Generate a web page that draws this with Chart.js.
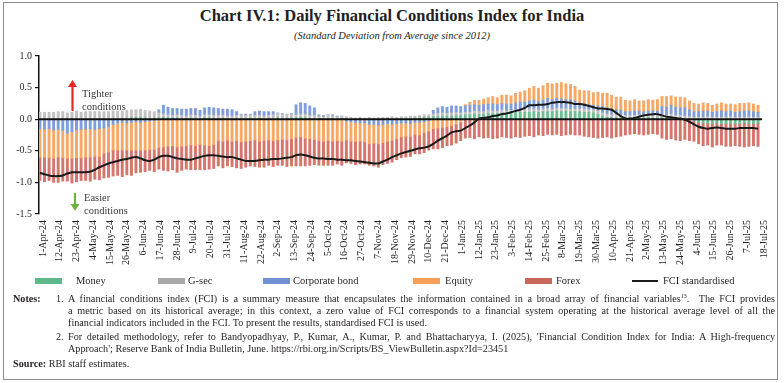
<!DOCTYPE html>
<html><head><meta charset="utf-8">
<script src="https://cdn.jsdelivr.net/npm/chart.js@4.4.1/dist/chart.umd.min.js"></script>
<style>
html,body{margin:0;padding:0;background:#fff;}
body{width:784px;height:383px;position:relative;overflow:hidden;font-family:"Liberation Serif","DejaVu Serif",serif;color:#231f20;}
#frame{position:absolute;left:3px;top:2px;width:773px;height:376px;border:1.5px solid #8c8c8c;}
#title{position:absolute;left:0;width:784px;top:6px;text-align:center;font-weight:bold;font-size:16.5px;}
#subtitle{position:absolute;left:0;width:784px;top:30px;text-align:center;font-style:italic;font-size:10.5px;}
#wrap{position:absolute;left:0;top:46px;width:784px;height:226px;}
.ann{position:absolute;font-size:10.5px;color:#3a3a3a;line-height:13px;}
.lg{position:absolute;top:274px;font-size:10.5px;line-height:13px;color:#231f20;}
.sw{position:absolute;top:278px;height:6px;width:27px;}
.nl{position:absolute;font-size:10.2px;line-height:12px;white-space:nowrap;}
.jt{position:absolute;left:68px;width:707px;font-size:10.2px;line-height:12px;height:12px;overflow:hidden;text-align:justify;text-align-last:justify;}
.pl{position:absolute;left:68px;font-size:10.2px;line-height:12px;white-space:nowrap;}
sup{font-size:6px;vertical-align:4px;line-height:0;}
</style>
</head><body>
<div id="frame"></div>
<div id="title">Chart IV.1: Daily Financial Conditions Index for India</div>
<div id="subtitle">(Standard Deviation from Average since 2012)</div>
<div id="wrap"><canvas id="c"></canvas></div>
<svg width="784" height="383" style="position:absolute;left:0;top:0;pointer-events:none">
  <line x1="72.5" y1="111" x2="72.5" y2="86" stroke="#e8262a" stroke-width="2.2"/>
  <polygon points="68,87 77,87 72.5,80" fill="#e8262a"/>
  <line x1="75" y1="193" x2="75" y2="205" stroke="#6db33f" stroke-width="2.2"/>
  <polygon points="70.5,204 79.5,204 75,211" fill="#6db33f"/>
</svg>
<div class="ann" style="left:82px;top:87px;">Tighter<br>conditions</div>
<div class="ann" style="left:84px;top:191px;">Easier<br>conditions</div>

<div class="sw" style="left:35px;background:#5fb88a"></div><div class="lg" style="left:76px">Money</div>
<div class="sw" style="left:158px;background:#a8a8a8"></div><div class="lg" style="left:188px">G-sec</div>
<div class="sw" style="left:263px;background:#6f90d2"></div><div class="lg" style="left:293px">Corporate bond</div>
<div class="sw" style="left:413px;background:#f59e55"></div><div class="lg" style="left:445px">Equity</div>
<div class="sw" style="left:525px;background:#c8675c"></div><div class="lg" style="left:556px">Forex</div>
<div class="sw" style="left:632px;top:280px;height:2px;width:26px;background:#1a1a1a"></div><div class="lg" style="left:663px">FCI standardised</div>

<div class="nl" style="left:13px;top:293px;font-weight:bold">Notes:</div>
<div class="nl" style="left:56px;top:293px">1.</div>
<div class="jt" style="top:293px">A financial conditions index (FCI) is a summary measure that encapsulates the information contained in a broad array of financial variables<sup>13</sup>.&nbsp; The FCI provides</div>
<div class="jt" style="top:305px">a metric based on its historical average; in this context, a zero value of FCI corresponds to a financial system operating at the historical average level of all the</div>
<div class="pl" style="top:317px">financial indicators included in the FCI. To present the results, standardised FCI is used.</div>
<div class="nl" style="left:56px;top:331px">2.</div>
<div class="jt" style="top:331px">For detailed methodology, refer to Bandyopadhyay, P., Kumar, A., Kumar, P. and Bhattacharyya, I. (2025), 'Financial Condition Index for India: A High-frequency</div>
<div class="pl" style="top:343px">Approach'; Reserve Bank of India Bulletin, June. https://rbi.org.in/Scripts/BS_ViewBulletin.aspx?Id=23451</div>
<div class="nl" style="left:13px;top:358px"><b>Source:</b> RBI staff estimates.</div>

<script>
// One observation every DAY_STEP days, starting 1-Apr-2024
const DAY_STEP = 3;
const TICK_STEP = 11;

const tickLabels = ['1-Apr-24','12-Apr-24','23-Apr-24','4-May-24','15-May-24','26-May-24','6-Jun-24','17-Jun-24','28-Jun-24','9-Jul-24','20-Jul-24','31-Jul-24','11-Aug-24','22-Aug-24','2-Sep-24','13-Sep-24','24-Sep-24','5-Oct-24','16-Oct-24','27-Oct-24','7-Nov-24','18-Nov-24','29-Nov-24','10-Dec-24','21-Dec-24','1-Jan-25','12-Jan-25','23-Jan-25','3-Feb-25','14-Feb-25','25-Feb-25','8-Mar-25','19-Mar-25','30-Mar-25','10-Apr-25','21-Apr-25','2-May-25','13-May-25','24-May-25','4-Jun-25','15-Jun-25','26-Jun-25','7-Jul-25','18-Jul-25'];

const money = [
0.01,0.00,0.01,0.00,0.00,0.01,0.00,0.00,0.01,0.00,
0.00,0.01,0.00,0.00,0.01,0.00,0.01,0.00,0.01,0.01,
0.02,0.03,0.03,0.02,0.01,0.01,0.02,0.03,0.02,0.02,
0.02,0.01,0.01,0.02,0.01,0.01,0.02,0.02,0.01,0.01,
0.01,0.01,0.00,0.01,0.01,0.00,0.01,0.01,0.01,0.00,
0.01,0.01,0.02,0.01,0.01,0.02,0.02,0.03,0.02,0.01,
0.01,0.01,0.00,0.01,0.01,0.00,0.01,0.01,0.00,0.00,
0.00,0.00,0.00,0.00,0.00,0.00,0.01,0.01,0.00,0.01,
0.01,0.01,0.02,0.02,0.03,0.03,0.04,0.04,0.05,0.05,
0.05,0.06,0.06,0.07,0.07,0.08,0.08,0.08,0.09,0.09,
0.09,0.10,0.09,0.10,0.10,0.11,0.11,0.11,0.12,0.11,
0.12,0.12,0.12,0.13,0.12,0.13,0.12,0.12,0.12,0.11,
0.11,0.10,0.08,0.05,0.03,0.03,0.02,0.02,0.02,0.02,
0.02,0.02,0.02,0.03,0.02,0.02,0.02,0.01,0.02,0.01,
0.01,0.00,-0.01,-0.03,-0.05,-0.06,-0.06,-0.07,-0.06,-0.07,
-0.07,-0.06,-0.07,-0.07,-0.06,-0.07,-0.07,-0.06];

const gsec = [
0.10,0.11,0.10,0.11,0.12,0.11,0.10,0.11,0.12,0.11,
0.12,0.11,0.12,0.12,0.11,0.12,0.12,0.13,0.12,0.13,
0.13,0.12,0.13,0.12,0.12,0.11,0.08,0.05,0.05,0.04,
0.05,0.05,0.04,0.05,0.05,0.04,0.05,0.05,0.05,0.05,
0.05,0.04,0.05,0.05,0.06,0.06,0.06,0.05,0.05,0.05,
0.05,0.06,0.07,0.07,0.07,0.06,0.05,0.05,0.06,0.05,
0.05,0.04,0.04,0.05,0.04,0.04,0.04,0.03,0.03,0.02,
0.03,0.02,0.03,0.02,0.03,0.03,0.02,0.03,0.03,0.03,
0.03,0.04,0.03,0.04,0.04,0.04,0.04,0.05,0.05,0.04,
0.05,0.05,0.04,0.04,0.04,0.05,0.04,0.04,0.05,0.04,
0.04,0.05,0.04,0.04,0.05,0.04,0.04,0.05,0.04,0.04,
0.04,0.05,0.04,0.04,0.05,0.04,0.04,0.04,0.04,0.05,
0.04,0.05,0.05,0.05,0.05,0.04,0.05,0.05,0.04,0.04,
0.04,0.05,0.04,0.04,0.04,0.05,0.05,0.05,0.06,0.05,
0.05,0.05,0.04,0.03,0.03,0.03,0.04,0.03,0.03,0.03,
0.03,0.04,0.03,0.03,0.03,0.04,0.03,0.03];

const corpBond = [
-0.15,-0.16,-0.15,-0.17,-0.16,-0.18,-0.22,-0.20,-0.17,-0.16,
-0.16,-0.15,-0.16,-0.15,-0.14,-0.12,-0.08,-0.06,-0.05,-0.06,
-0.05,-0.04,-0.05,-0.04,-0.03,-0.02,0.05,0.14,0.12,0.11,
0.10,0.10,0.11,0.10,0.11,0.09,0.11,0.12,0.12,0.11,
0.10,0.11,0.10,0.06,0.01,0.02,0.01,0.06,0.07,0.07,
0.06,0.05,0.01,0.01,0.00,0.01,0.16,0.18,0.17,0.15,
0.12,0.02,0.02,0.01,0.02,0.01,0.00,-0.03,-0.04,-0.05,
-0.06,-0.06,-0.08,-0.08,-0.09,-0.08,-0.07,-0.08,-0.07,-0.06,
-0.06,-0.07,-0.05,-0.05,-0.04,-0.02,0.06,0.09,0.10,0.10,
0.11,0.10,0.10,0.10,0.11,0.10,0.10,0.11,0.10,0.11,
0.10,0.10,0.11,0.10,0.11,0.12,0.12,0.13,0.14,0.13,
0.14,0.16,0.15,0.16,0.15,0.14,0.15,0.13,0.10,0.08,
0.08,0.07,0.08,0.10,0.10,0.09,0.08,0.07,0.06,0.06,
0.07,0.06,0.06,0.06,0.07,0.06,0.13,0.13,0.14,0.13,
0.12,0.13,0.11,0.09,0.09,0.10,0.09,0.08,0.09,0.10,
0.09,0.09,0.08,0.09,0.10,0.09,0.09,0.08];

const equity = [
-0.45,-0.44,-0.46,-0.45,-0.44,-0.43,-0.40,-0.42,-0.44,-0.45,
-0.44,-0.45,-0.43,-0.44,-0.40,-0.40,-0.41,-0.43,-0.44,-0.43,
-0.44,-0.45,-0.44,-0.45,-0.45,-0.46,-0.45,-0.44,-0.43,-0.42,
-0.44,-0.43,-0.42,-0.41,-0.42,-0.40,-0.41,-0.42,-0.40,-0.34,
-0.35,-0.33,-0.35,-0.34,-0.36,-0.35,-0.34,-0.33,-0.35,-0.34,
-0.33,-0.34,-0.33,-0.32,-0.33,-0.31,-0.29,-0.28,-0.30,-0.31,
-0.32,-0.34,-0.35,-0.34,-0.35,-0.34,-0.35,-0.30,-0.31,-0.30,
-0.29,-0.30,-0.31,-0.30,-0.30,-0.29,-0.28,-0.26,-0.24,-0.22,
-0.21,-0.20,-0.19,-0.20,-0.18,-0.17,-0.15,-0.14,-0.13,-0.12,
-0.10,-0.08,-0.05,0.02,0.05,0.07,0.08,0.09,0.10,0.12,
0.11,0.13,0.14,0.13,0.15,0.16,0.18,0.20,0.22,0.21,
0.23,0.24,0.25,0.24,0.26,0.25,0.24,0.23,0.20,0.21,
0.22,0.20,0.22,0.21,0.23,0.22,0.20,0.21,0.18,0.17,
0.18,0.16,0.17,0.18,0.17,0.18,0.16,0.17,0.15,0.16,
0.17,0.16,0.14,0.13,0.12,0.13,0.12,0.11,0.12,0.13,
0.12,0.11,0.12,0.13,0.12,0.13,0.12,0.11];

const forex = [
-0.37,-0.39,-0.36,-0.38,-0.40,-0.37,-0.36,-0.39,-0.38,-0.36,
-0.37,-0.38,-0.36,-0.37,-0.39,-0.40,-0.41,-0.40,-0.42,-0.39,
-0.40,-0.36,-0.35,-0.34,-0.33,-0.35,-0.34,-0.37,-0.39,-0.38,
-0.40,-0.38,-0.37,-0.39,-0.38,-0.40,-0.39,-0.37,-0.38,-0.40,
-0.42,-0.41,-0.40,-0.43,-0.42,-0.41,-0.40,-0.42,-0.41,-0.42,
-0.40,-0.41,-0.40,-0.41,-0.42,-0.43,-0.45,-0.46,-0.44,-0.42,
-0.40,-0.39,-0.38,-0.39,-0.38,-0.37,-0.38,-0.36,-0.35,-0.37,
-0.36,-0.35,-0.34,-0.36,-0.37,-0.35,-0.35,-0.34,-0.33,-0.33,
-0.33,-0.32,-0.31,-0.30,-0.31,-0.30,-0.32,-0.33,-0.32,-0.30,
-0.31,-0.30,-0.29,-0.30,-0.29,-0.31,-0.28,-0.30,-0.29,-0.31,
-0.30,-0.28,-0.29,-0.30,-0.28,-0.29,-0.27,-0.26,-0.28,-0.25,
-0.26,-0.24,-0.25,-0.24,-0.26,-0.25,-0.24,-0.25,-0.25,-0.27,
-0.28,-0.29,-0.30,-0.29,-0.28,-0.30,-0.28,-0.27,-0.25,-0.24,
-0.23,-0.24,-0.25,-0.24,-0.23,-0.24,-0.30,-0.32,-0.31,-0.33,
-0.34,-0.32,-0.33,-0.32,-0.34,-0.36,-0.35,-0.37,-0.35,-0.34,
-0.36,-0.37,-0.35,-0.36,-0.38,-0.36,-0.35,-0.37];

const fci = [
-0.85,-0.87,-0.89,-0.90,-0.90,-0.89,-0.86,-0.84,-0.84,-0.84,
-0.84,-0.83,-0.80,-0.76,-0.73,-0.70,-0.68,-0.66,-0.64,-0.63,
-0.61,-0.60,-0.62,-0.65,-0.66,-0.64,-0.60,-0.58,-0.58,-0.60,
-0.62,-0.63,-0.64,-0.64,-0.62,-0.60,-0.58,-0.57,-0.57,-0.58,
-0.59,-0.60,-0.60,-0.62,-0.64,-0.66,-0.66,-0.66,-0.65,-0.64,
-0.64,-0.63,-0.63,-0.62,-0.61,-0.60,-0.57,-0.56,-0.57,-0.59,
-0.61,-0.62,-0.62,-0.63,-0.63,-0.64,-0.64,-0.65,-0.65,-0.66,
-0.67,-0.68,-0.69,-0.70,-0.70,-0.67,-0.64,-0.60,-0.57,-0.54,
-0.52,-0.50,-0.48,-0.46,-0.45,-0.43,-0.39,-0.34,-0.30,-0.26,
-0.21,-0.19,-0.18,-0.14,-0.10,-0.05,0.01,0.02,0.03,0.05,
0.06,0.08,0.09,0.11,0.13,0.15,0.18,0.22,0.22,0.23,
0.23,0.24,0.26,0.27,0.27,0.27,0.26,0.24,0.24,0.23,
0.21,0.19,0.17,0.17,0.16,0.15,0.10,0.05,0.01,0.01,
0.02,0.04,0.06,0.07,0.08,0.08,0.06,0.04,0.03,0.02,
0.01,-0.01,-0.04,-0.08,-0.12,-0.14,-0.15,-0.14,-0.13,-0.14,
-0.15,-0.15,-0.15,-0.14,-0.14,-0.14,-0.14,-0.15];

const days = fci.map((_, i) => i * DAY_STEP);
const xy = arr => arr.map((v, i) => ({x: days[i], y: v}));
const tickDays = tickLabels.map((_, i) => i * TICK_STEP);

const barDs = (label, arr, color) => ({
  type: 'bar', label, data: xy(arr), backgroundColor: color,
  barThickness: 2.3, borderWidth: 0, stack: 'fcs', order: 1
});

const zeroLine = {
  id: 'zeroLine',
  beforeDatasetDraw(chart, args) {
    if (args.index !== 5) return;
    const {ctx, chartArea, scales} = chart;
    const y = scales.y.getPixelForValue(0);
    ctx.save();
    ctx.strokeStyle = '#111';
    ctx.lineWidth = 2;
    ctx.beginPath();
    ctx.moveTo(chartArea.left, y);
    ctx.lineTo(chartArea.right, y);
    ctx.stroke();
    ctx.restore();
  }
};

const FONT = {family: '"Liberation Serif", "DejaVu Serif", serif', size: 10};

new Chart(document.getElementById('c'), {
  data: {
    datasets: [
      barDs('Money', money, '#6cbf93'),
      barDs('G-sec', gsec, '#c2c2c2'),
      barDs('Corporate bond', corpBond, '#7f9edb'),
      barDs('Equity', equity, '#f6a966'),
      barDs('Forex', forex, '#d4766c'),
      {type: 'line', label: 'FCI standardised', data: xy(fci), borderColor: '#1a1a1a',
       borderWidth: 2, pointRadius: 0, tension: 0.35, fill: false, stack: 'fci', order: 0}
    ]
  },
  options: {
    responsive: true, maintainAspectRatio: false, animation: false,
    layout: {padding: {top: 10, right: 22, left: 0, bottom: 0}},
    plugins: {legend: {display: false}, tooltip: {enabled: false}},
    scales: {
      x: {
        type: 'linear', min: -0.6, max: 473.6, offset: false, stacked: true,
        grid: {display: false, drawTicks: false}, border: {display: false},
        afterBuildTicks: s => { s.ticks = tickDays.map(v => ({value: v})); },
        afterFit: s => { s.height = 58; },
        ticks: {autoSkip: false, minRotation: 90, maxRotation: 90, padding: 6, labelOffset: 3,
                color: '#231f20', font: {...FONT, size: 10},
                callback: (v, i) => tickLabels[i]}
      },
      y: {
        min: -1.5, max: 1.0, stacked: true,
        grid: {drawOnChartArea: false, drawTicks: true, tickLength: 4, color: '#111', lineWidth: 1.2},
        border: {display: true, color: '#111', width: 1.5},
        afterFit: s => { s.width = 39; },
        ticks: {stepSize: 0.5, padding: 3, color: '#231f20', font: FONT,
                callback: v => v.toFixed(1)}
      }
    }
  },
  plugins: [zeroLine]
});
</script>
</body></html>
